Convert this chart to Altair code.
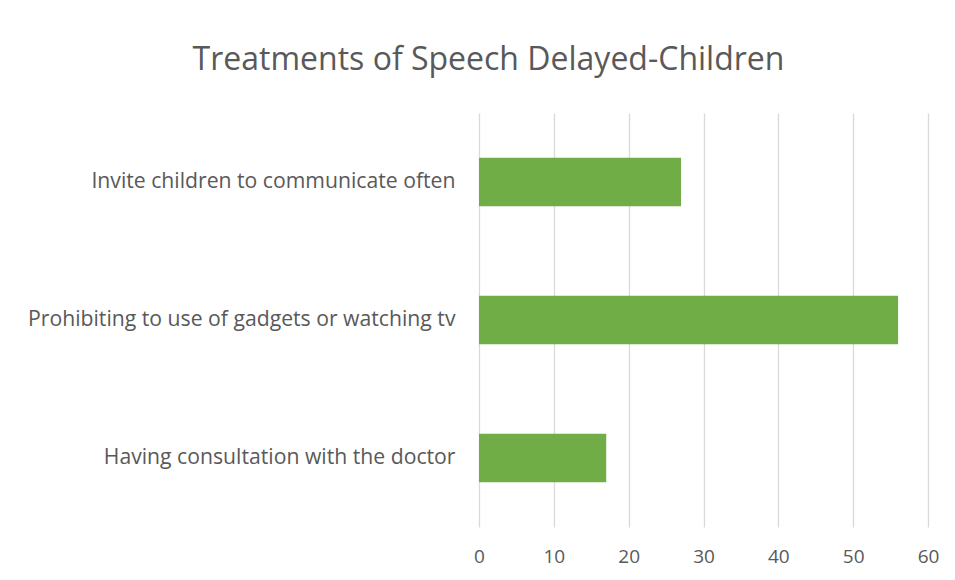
import altair as alt
import pandas as pd

categories = [
    "Invite children to communicate often",
    "Prohibiting to use of gadgets or watching tv",
    "Having consultation with the doctor",
]
values = [27, 56, 17]
x_ticks = [0, 10, 20, 30, 40, 50, 60]

df = pd.DataFrame({"treatment": categories, "count": values})

FONT = "Open Sans"
TEXT = "#595959"

chart = (
    alt.Chart(df)
    .mark_bar(color="#70AD47")
    .encode(
        x=alt.X(
            "count:Q",
            scale=alt.Scale(domain=[0, 60], nice=False),
            axis=alt.Axis(
                values=x_ticks,
                title=None,
                domain=False,
                ticks=False,
                grid=True,
                gridColor="#d9d9d9",
                gridWidth=1.3,
                labelFont=FONT,
                labelFontSize=19,
                labelColor=TEXT,
                labelPadding=20,
                labelFlush=False,
            ),
        ),
        y=alt.Y(
            "treatment:N",
            sort=categories,
            scale=alt.Scale(paddingInner=0.65, paddingOuter=0.325),
            axis=alt.Axis(
                title=None,
                domain=False,
                ticks=False,
                grid=False,
                labelFont=FONT,
                labelFontSize=21.2,
                labelColor=TEXT,
                labelPadding=24,
                labelLimit=500,
            ),
        ),
    )
    .properties(
        width=449,
        height=414,
        autosize=alt.AutoSizeParams(type="none"),
        padding={"left": 471, "top": 105, "right": 19, "bottom": 50},
        view=alt.ViewBackground(stroke="transparent", strokeWidth=0),
        title=alt.TitleParams(
            "Treatments of Speech Delayed-Children",
            font=FONT,
            fontSize=32,
            fontWeight="normal",
            color=TEXT,
            anchor="middle",
            dx=-215,
            offset=36,
        ),
    )
    .configure_view(strokeWidth=0, stroke="transparent")
    .configure_axis(domain=False)
    .configure(background="white")
)

chart.save("out.html", embed_options={"renderer": "svg", "actions": False})
